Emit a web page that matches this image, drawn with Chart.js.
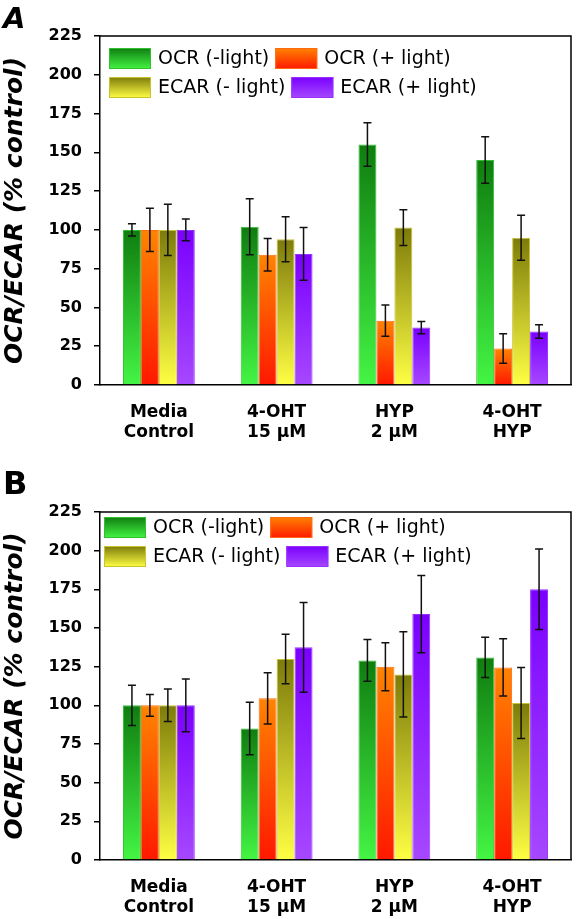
<!DOCTYPE html>
<html>
<head>
<meta charset="utf-8">
<script src="https://cdn.jsdelivr.net/npm/chart.js@4.4.0/dist/chart.umd.min.js"></script>
<style>
  html, body { margin: 0; padding: 0; background: #fff; }
  .panel { position: relative; width: 576px; }
  #wrapA { height: 460px; }
  #wrapB { height: 459px; }
</style>
</head>
<body>
<div class="panel" id="wrapA"><canvas id="chartA"></canvas></div>
<div class="panel" id="wrapB"><canvas id="chartB"></canvas></div>
<script>
// categories and series
const categories = [['Media', 'Control'], ['4-OHT', '15 μM'], ['HYP', '2 μM'], ['4-OHT', 'HYP']];
const seriesNames = ['OCR (-light)', 'OCR (+ light)', 'ECAR (- light)', 'ECAR (+ light)'];
const yMax = 225;
const yStep = 25;

// panel A values (% control) and error bars
const ocrDarkA = [100, 102, 155, 145];
const ocrDarkErrA = [4, 18, 14, 15];
const ocrLightA = [100, 84, 41.5, 23.5];
const ocrLightErrA = [14, 10.5, 10, 9.5];
const ecarDarkA = [100, 94, 101.5, 95];
const ecarDarkErrA = [16.5, 14.5, 11.5, 14.5];
const ecarLightA = [100, 84.5, 37, 34.5];
const ecarLightErrA = [7, 17, 4, 4.3];

// panel B values
const ocrDarkB = [100, 85, 129, 131];
const ocrDarkErrB = [13, 17, 13.5, 13];
const ocrLightB = [100, 104.5, 125, 124.5];
const ocrLightErrB = [7, 16.5, 15.5, 18.5];
const ecarDarkB = [100, 130, 120, 101.5];
const ecarDarkErrB = [10.5, 16, 27.5, 23];
const ecarLightB = [100, 137.5, 159, 175];
const ecarLightErrB = [17, 29, 25, 26];

// gradient colours: [top, bottom, outline]
const seriesColors = [
  ['#0f7d0f', '#44f544', '#2fbf2f'],
  ['#ff8400', '#ff1800', '#ff6a10'],
  ['#7d7b0a', '#ffff44', '#c8c430'],
  ['#7a00ff', '#a648ff', '#9a30ff']
];

function barFill(i) {
  return function (ctx) {
    const chart = ctx.chart;
    const col = seriesColors[i];
    if (!chart.chartArea || ctx.dataIndex === undefined) return col[0];
    const y = chart.scales.y;
    const g = chart.ctx.createLinearGradient(0, y.getPixelForValue(ctx.raw), 0, y.getPixelForValue(0));
    g.addColorStop(0, col[0]);
    g.addColorStop(1, col[1]);
    return g;
  };
}

// error bars, drawn from the bar elements and y scale
const errorBars = {
  id: 'errorBars',
  afterDatasetsDraw(chart) {
    const c = chart.ctx, y = chart.scales.y;
    c.save();
    c.strokeStyle = '#111';
    c.lineWidth = 1.5;
    chart.data.datasets.forEach((ds, i) => {
      chart.getDatasetMeta(i).data.forEach((bar, j) => {
        const hi = y.getPixelForValue(ds.data[j] + ds.errors[j]);
        const lo = y.getPixelForValue(ds.data[j] - ds.errors[j]);
        c.beginPath();
        c.moveTo(bar.x, hi); c.lineTo(bar.x, lo);
        c.moveTo(bar.x - 4, hi); c.lineTo(bar.x + 4, hi);
        c.moveTo(bar.x - 4, lo); c.lineTo(bar.x + 4, lo);
        c.stroke();
      });
    });
    c.restore();
  }
};

// frame, legend inside the plot, panel letter
const decor = {
  id: 'decor',
  afterDraw(chart, args, opts) {
    const c = chart.ctx, a = chart.chartArea;
    c.save();
    c.strokeStyle = '#000';
    c.lineWidth = 1.5;
    c.beginPath();
    c.moveTo(a.left, a.top); c.lineTo(a.right, a.top); c.lineTo(a.right, a.bottom);
    c.stroke();

    // legend
    c.font = '19px "DejaVu Sans"';
    c.textBaseline = 'middle';
    let x = a.left + opts.dx, y = a.top + opts.dy;
    chart.data.datasets.forEach((ds, i) => {
      if (i === 2) { x = a.left + opts.dx; y += 29; }
      const col = seriesColors[i];
      const g = c.createLinearGradient(0, y, 0, y + 21);
      g.addColorStop(0, col[0]);
      g.addColorStop(1, col[1]);
      c.fillStyle = g;
      c.fillRect(x, y, 42, 21);
      c.strokeStyle = col[2];
      c.lineWidth = 1;
      c.strokeRect(x + 0.5, y + 0.5, 41, 20);
      c.fillStyle = '#000';
      c.fillText(ds.label, x + 49, y + 11);
      x += 49 + c.measureText(ds.label).width + 6;
    });

    // panel letter
    c.font = opts.letterFont;
    c.textBaseline = 'alphabetic';
    c.fillText(opts.letter, 3, opts.letterY);
    c.restore();
  }
};

function makeChart(id, vals, errs, top, bottomH, legendPos, letter, letterFont, letterY) {
  return new Chart(document.getElementById(id), {
    type: 'bar',
    data: {
      labels: categories,
      datasets: seriesNames.map((name, i) => ({
        label: name,
        data: vals[i],
        errors: errs[i],
        backgroundColor: barFill(i),
        borderColor: seriesColors[i][2],
        borderWidth: 1,
        borderSkipped: 'bottom',
        categoryPercentage: 0.61,
        barPercentage: 1.0
      }))
    },
    options: {
      responsive: true,
      maintainAspectRatio: false,
      animation: false,
      events: [],
      layout: { padding: { top: top, right: 5, left: 0, bottom: 0 } },
      plugins: {
        legend: { display: false },
        tooltip: { enabled: false },
        decor: { dx: legendPos[0], dy: legendPos[1], letter: letter, letterFont: letterFont, letterY: letterY }
      },
      scales: {
        x: {
          grid: { display: false },
          border: { display: true, color: '#000', width: 1.5 },
          ticks: {
            color: '#000',
            padding: 9,
            maxRotation: 0,
            autoSkip: false,
            font: { family: 'DejaVu Sans', size: 17, weight: 'bold', lineHeight: 1.2 }
          },
          afterFit(s) { s.height = bottomH; }
        },
        y: {
          min: 0,
          max: yMax,
          grid: { drawOnChartArea: false, drawTicks: true, tickLength: 6, color: '#000', tickColor: '#000', lineWidth: 1.5 },
          border: { display: true, color: '#000', width: 1.5 },
          ticks: {
            stepSize: yStep / 2,
            color: '#000',
            padding: 12,
            font: { family: 'DejaVu Sans', size: 16, weight: 'bold' },
            callback: (v) => (v % yStep === 0 ? String(v) : '')
          },
          title: {
            display: true,
            text: 'OCR/ECAR (% control)',
            color: '#000',
            padding: { top: 0, bottom: 0 },
            font: { family: 'DejaVu Sans', size: 25, weight: 'bold', style: 'italic' }
          },
          afterFit(s) { s.width = 100; }
        }
      }
    },
    plugins: [errorBars, decor]
  });
}

makeChart('chartA',
  [ocrDarkA, ocrLightA, ecarDarkA, ecarLightA],
  [ocrDarkErrA, ocrLightErrA, ecarDarkErrA, ecarLightErrA],
  36, 75, [9, 12], 'A', 'italic bold 29px "DejaVu Sans"', 28);

makeChart('chartB',
  [ocrDarkB, ocrLightB, ecarDarkB, ecarLightB],
  [ocrDarkErrB, ocrLightErrB, ecarDarkErrB, ecarLightErrB],
  52, 59, [4, 5], 'B', 'bold 32px "DejaVu Sans"', 34);
</script>
</body>
</html>
